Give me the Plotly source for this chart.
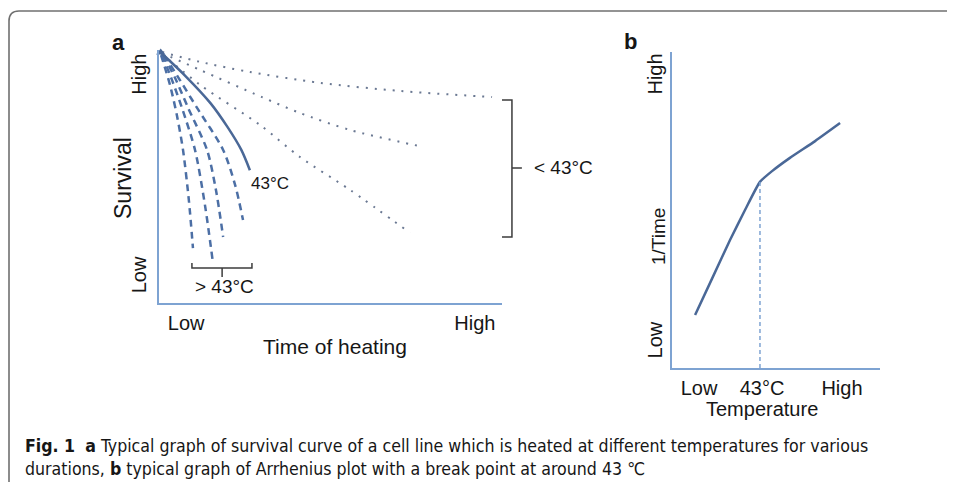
import plotly.graph_objects as go

W, H = 955, 482
OFF = 8                      # page body margin around the plot div
FW, FH = W - OFF, H - OFF    # figure size so that it fills the window
F = "Liberation Sans, Arial, sans-serif"
FC = "Liberation Sans Narrow, DejaVu Sans Condensed, Liberation Sans, sans-serif"
TXT = "#161616"
AX = "#7ea3d2"
C_SOLID = "#4a6897"
C_DASH = "#4c6fa5"
C_DOT = "#6a7892"
C_BR = "#3c3c3c"


def PX(x):
    return (x - OFF) / FW


def PY(y):
    return 1 - (y - OFF) / FH


# ---------------- Panel a: survival vs time of heating (0..100 relative units)
a_xtick_vals = [7.9, 92.1]
a_xtick_text = ["Low", "High"]
a_ytick_vals = [9.9, 89.3]
a_ytick_text = ["Low", "High"]

curve43_x = [0.5, 7.5, 15, 20, 24, 26.5]
curve43_y = [99, 90, 79, 69.5, 60.5, 52.5]

above43_x = [
    [0.6, 3.2, 5.2, 7.0, 8.7, 9.9],
    [0.9, 3.8, 6.7, 10.5, 13.4, 15.7],
    [1.2, 4.7, 8.5, 14.0, 16.6, 18.7],
    [1.5, 6.1, 11.1, 18.7, 22.2, 24.5],
]
above43_y = [
    [98, 86.2, 74.3, 60.5, 40.7, 21.7],
    [98, 88.1, 77.1, 60.5, 38.7, 16.2],
    [98, 88.9, 77.1, 60.5, 44.7, 26.1],
    [98, 88.1, 77.1, 60.5, 46.6, 32.8],
]

below43_x = [
    [0.9, 12.0, 26.5, 46.9, 70.3, 97.1],
    [0.9, 12.0, 30.0, 41.1, 55.7, 77.0],
    [0.9, 12.0, 29.4, 41.1, 55.7, 73.2],
]
below43_y = [
    [99.2, 95.3, 91.3, 87.0, 83.8, 81.4],
    [98.8, 92.1, 81.4, 75.1, 68.4, 61.7],
    [98.4, 86.2, 70.4, 57.7, 44.7, 27.7],
]

# bracket extents (panel a units)
above_br_x = [9.6, 18.4, 27.1]   # left, middle, right
above_br_y = [13.8, 15.8, 10.3]  # bar, end-hook top, middle tick bottom
below_br_x = [102.9, 100.0, 105.8]  # bar, hook end, middle tick end
below_br_y = [26.1, 53.4, 80.2]     # bottom, middle, top

# ---------------- Panel b: 1/time vs temperature (0..100 relative units)
b_xtick_vals = [13.0, 43.3, 81.7]
b_xtick_text = ["Low", "43°C", "High"]
b_ytick_vals = [7.9, 92.1]
b_ytick_text = ["Low", "High"]

temp_x = [11.1, 19.2, 27.9, 35.1, 42.3, 48.1, 56.7, 68.8, 80.8]
inv_time_y = [16.8, 28.2, 40.5, 50.0, 58.9, 62.3, 66.5, 71.8, 77.5]
break_index = 4

fig = go.Figure()

# dotted (< 43 °C)
for xs, ys in zip(below43_x, below43_y):
    fig.add_trace(go.Scatter(x=xs, y=ys, mode="lines", xaxis="x", yaxis="y",
                             line=dict(color=C_DOT, width=2, dash="2px,7px",
                                       shape="spline", smoothing=0.8),
                             hoverinfo="skip", showlegend=False))
# dashed (> 43 °C)
for xs, ys in zip(above43_x, above43_y):
    fig.add_trace(go.Scatter(x=xs, y=ys, mode="lines", xaxis="x", yaxis="y",
                             line=dict(color=C_DASH, width=2.5, dash="7px,5px",
                                       shape="spline", smoothing=0.8),
                             hoverinfo="skip", showlegend=False))
# solid (43 °C)
fig.add_trace(go.Scatter(x=curve43_x, y=curve43_y, mode="lines", xaxis="x", yaxis="y",
                         line=dict(color=C_SOLID, width=2.5, shape="spline", smoothing=0.8),
                         hoverinfo="skip", showlegend=False))
# apex marker
fig.add_trace(go.Scatter(x=[curve43_x[0]], y=[curve43_y[0]], mode="markers", xaxis="x", yaxis="y",
                         marker=dict(symbol="triangle-up", size=8, color=C_SOLID),
                         cliponaxis=False, hoverinfo="skip", showlegend=False))
# > 43 °C bracket
bx0, bxm, bx1 = above_br_x
by, byt, bym = above_br_y
fig.add_trace(go.Scatter(x=[bx0, bx0, bx1, bx1, None, bxm, bxm],
                         y=[byt, by, by, byt, None, by, bym],
                         mode="lines", xaxis="x", yaxis="y",
                         line=dict(color=C_BR, width=1.5),
                         hoverinfo="skip", showlegend=False))

# panel b curve
fig.add_trace(go.Scatter(x=temp_x, y=inv_time_y, mode="lines", xaxis="x2", yaxis="y2",
                         line=dict(color=C_SOLID, width=2.5, shape="spline", smoothing=0.5),
                         hoverinfo="skip", showlegend=False))
fig.add_trace(go.Scatter(x=[temp_x[break_index]] * 2, y=[0, inv_time_y[break_index]],
                         mode="lines", xaxis="x2", yaxis="y2",
                         line=dict(color=AX, width=1.5, dash="4px,3px"),
                         hoverinfo="skip", showlegend=False))

# < 43 °C bracket (drawn in axis-domain units so it can sit beyond the axis)
vx, hx, tx = [v / 100 for v in below_br_x]
y0, ym, y1 = [v / 100 for v in below_br_y]
fig.add_shape(type="path", xref="x domain", yref="y domain",
              path=f"M {hx},{y1} L {vx},{y1} L {vx},{y0} L {hx},{y0} M {vx},{ym} L {tx},{ym}",
              line=dict(color=C_BR, width=1.5))

# outer frame with rounded corner
x0f, ytf, r = PX(9), PY(11), 10
fig.add_shape(type="path", xref="paper", yref="paper",
              path=(f"M {x0f},-0.1 L {x0f},{ytf - r / FH} "
                    f"Q {x0f},{ytf} {x0f + r / FW},{ytf} L 1.1,{ytf}"),
              line=dict(color="#707070", width=1.6))

axis_common = dict(showline=True, linecolor=AX, linewidth=2, showgrid=False,
                   zeroline=False, ticks="outside", tickcolor="rgba(0,0,0,0)",
                   fixedrange=True, tickmode="array",
                   tickfont=dict(family=F, size=20, color=TXT))

fig.update_layout(
    width=FW, height=FH, margin=dict(l=0, r=0, t=0, b=0),
    paper_bgcolor="white", plot_bgcolor="rgba(0,0,0,0)",
    font=dict(family=F, color=TXT),
    showlegend=False,
    xaxis=dict(axis_common, domain=[PX(159), PX(502)], range=[0, 100], anchor="y",
               tickvals=a_xtick_vals, ticktext=a_xtick_text, ticklen=1),
    yaxis=dict(axis_common, domain=[PY(303), PY(50)], range=[0, 100], anchor="x",
               tickvals=a_ytick_vals, ticktext=a_ytick_text, ticklen=3, tickangle=-90),
    xaxis2=dict(axis_common, domain=[PX(672), PX(880)], range=[0, 100], anchor="y2",
                tickvals=b_xtick_vals, ticktext=b_xtick_text, ticklen=1),
    yaxis2=dict(axis_common, domain=[PY(368), PY(52)], range=[0, 100], anchor="x2",
                tickvals=b_ytick_vals, ticktext=b_ytick_text, ticks="", tickangle=-90),
)

ann = []


def A(text, x, y, xref, yref, size, angle=0, xanchor="center", yanchor="middle", family=F):
    ann.append(dict(text=text, x=x, y=y, xref=xref, yref=yref, showarrow=False,
                    textangle=angle, xanchor=xanchor, yanchor=yanchor,
                    font=dict(family=family, size=size, color=TXT)))


A("<b>a</b>", PX(118), PY(42), "paper", "paper", 22)
A("<b>b</b>", PX(630), PY(41), "paper", "paper", 22)
A("Survival", PX(123), PY(178), "paper", "paper", 23, angle=-90)
A("Time of heating", PX(335), PY(346), "paper", "paper", 21)
A("1/Time", PX(658), PY(237), "paper", "paper", 19, angle=-90)
A("Temperature", PX(762), PY(409), "paper", "paper", 20)
A("43°C", 32.4, 47.4, "x", "y", 17)
A("> 43°C", 19.0, 6.7, "x", "y", 19)
# label beside the < 43 °C bracket (axis-domain units, beyond the x range)
A("< 43°C", (below_br_x[2] + 2.9) / 100, below_br_y[1] / 100, "x domain", "y domain", 19,
  xanchor="left")

nb = "\u00a0"
A(f"<b>Fig.{nb}1</b>{nb}{nb}<b>a</b>{nb}Typical graph of survival curve of a cell line which is heated at different temperatures for various",
  PX(23), PY(446), "paper", "paper", 17.6, xanchor="left", family=FC)
A(f"durations, <b>b</b> typical graph of Arrhenius plot with a break point at around 43{nb}℃",
  PX(23), PY(469), "paper", "paper", 17.6, xanchor="left", family=FC)

fig.update_layout(annotations=ann)
fig.write_html("out.html")
